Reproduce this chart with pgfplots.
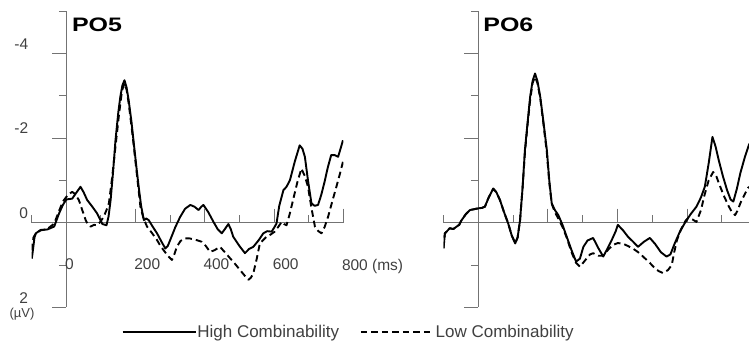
\documentclass[border=0pt]{standalone}
\usepackage{pgfplots}
\pgfplotsset{compat=1.18}
\usepackage{fontspec}
\setmainfont{Liberation Sans}
\definecolor{axgray}{gray}{0.45}
\definecolor{txtgray}{gray}{0.25}

\pgfplotsset{
  erp/.style={
    scale only axis, height=296pt,
    axis lines=middle,
    axis line style={-, axgray, line width=1pt},
    ymin=-5, ymax=2, y dir=reverse,
    hide obscured x ticks=false, hide obscured y ticks=false,
    tick align=outside,
    major tick length=14pt, minor tick length=7.5pt,
    tick style={axgray, line width=1pt},
    minor tick style={axgray, line width=1pt},
    ytick={-4,-2,0,2}, minor ytick={-5,-3,-1,1},
    /pgf/number format/assume math mode=true,
    ticklabel style={font=\fontsize{15.5}{15.5}\selectfont, text=txtgray},
    title style={inner sep=0pt, anchor=base west, font=\bfseries\fontsize{19.5}{19.5}\selectfont},
    clip=true,
  },
  hi/.style={black, line width=1.9pt, line join=round},
  lo/.style={black, line width=1.9pt, line join=round, dash pattern=on 6.5pt off 4pt},
}

\begin{document}
\begin{tikzpicture}
\useasboundingbox (0,0) rectangle (749pt,352pt);
% ---------------- PO5 ----------------
\begin{axis}[erp,
  at={(31.7pt,44.7pt)}, anchor=south west, width=311.6pt,
  xmin=-100, xmax=800,
  xtick={0,200,400,600,800}, minor xtick={-100,100,300,500,700},
  xticklabels={0,200,400,600,800 (ms)},
  yticklabels={-4,-2,0,2},
  xticklabel style={anchor=north west, inner sep=0pt, xshift=-1.5pt, yshift=-22pt},
  yticklabel style={anchor=south east, inner sep=0pt, xshift=-24pt, yshift=4pt},
  title={\scalebox{1.28}[1]{PO5}},
  title style={at={(axis description cs:0.129,0.913)}},
  every axis y label/.style={at={(axis description cs:-0.031,-0.023)}, anchor=center, font=\fontsize{13}{13}\selectfont, text=txtgray},
  ylabel={(µV)},
  legend style={at={(axis description cs:0.289,-0.083)}, anchor=west, draw=none, fill=none,
    legend columns=2, inner sep=0pt, outer sep=0pt,
    font=\fontsize{17}{17}\selectfont, text=txtgray,
    /tikz/every even column/.append style={column sep=20pt},
    nodes={inner sep=1pt}},
  legend image code/.code={\draw[#1, line width=1.6pt] (0pt,0pt) -- (73pt,0pt);},
]
\addplot[hi] coordinates {
(-100,0.85) (-98,0.75) (-92,0.35) (-88,0.25) (-74,0.17) (-55,0.16) (-35,0.09) (-21,-0.22) (-10,-0.42) (0,-0.55) (17,-0.57) (28,-0.7) (41,-0.85) (50,-0.72) (60,-0.54) (75,-0.38) (89,-0.22) (104,0.03) (116,0.06) (122,-0.15) (128,-0.54) (135,-1.2) (142,-1.95) (150,-2.6) (156,-2.98) (162,-3.25) (168,-3.37) (174,-3.2) (180,-2.9) (188,-2.4) (195,-1.87) (202,-1.35) (209,-0.85) (216,-0.4) (224,-0.06) (231,-0.1) (238,-0.06) (250,0.1) (262,0.25) (275,0.45) (286,0.61) (293,0.55) (300,0.41) (315,0.1) (329,-0.14) (343,-0.33) (358,-0.42) (370,-0.38) (382,-0.30) (390,-0.38) (396,-0.42) (410,-0.25) (425,-0.02) (437,0.15) (449,0.25) (458,0.15) (468,0.03) (475,0.15) (482,0.33) (500,0.55) (516,0.72) (528,0.62) (540,0.57) (555,0.42) (569,0.25) (580,0.2) (593,0.21) (600,0.12) (607,0.02) (615,-0.4) (627,-0.77) (636,-0.85) (646,-1.01) (660,-1.45) (674,-1.83) (682,-1.75) (689,-1.56) (698,-1.0) (708,-0.46) (717,-0.4) (727,-0.42) (736,-0.65) (746,-0.97) (755,-1.3) (765,-1.60) (775,-1.6) (785,-1.56) (792,-1.75) (799,-1.95)
};
\addlegendentry{High Combinability}
\addplot[lo] coordinates {
(-100,0.65) (-95,0.35) (-88,0.25) (-74,0.18) (-55,0.15) (-35,0.02) (-20,-0.3) (-10,-0.5) (0,-0.61) (8,-0.68) (17,-0.73) (25,-0.68) (36,-0.54) (46,-0.3) (56,-0.06) (63,0.05) (70,0.09) (80,0.05) (89,0.06) (98,-0.02) (108,-0.14) (116,-0.3) (123,-0.46) (132,-1.05) (142,-1.8) (152,-2.55) (161,-3.13) (168,-3.29) (174,-3.15) (180,-2.83) (188,-2.3) (195,-1.8) (205,-1.05) (214,-0.38) (223,-0.1) (233,0.09) (248,0.25) (262,0.41) (272,0.55) (281,0.65) (293,0.78) (305,0.88) (312,0.75) (319,0.57) (330,0.43) (343,0.37) (355,0.37) (367,0.39) (380,0.42) (391,0.45) (403,0.55) (415,0.69) (428,0.65) (444,0.57) (458,0.7) (473,0.84) (488,0.98) (502,1.12) (515,1.25) (526,1.35) (533,1.3) (540,1.2) (550,0.85) (559,0.49) (570,0.4) (578,0.33) (590,0.28) (602,0.21) (612,0.1) (622,-0.02) (629,0.03) (636,0.06) (645,-0.2) (655,-0.54) (667,-0.95) (679,-1.28) (689,-1.1) (698,-0.85) (708,-0.35) (718,0.09) (728,0.2) (737,0.25) (746,0.1) (756,-0.14) (768,-0.5) (780,-0.85) (790,-1.15) (799,-1.44)
};
\addlegendentry{Low Combinability}
\end{axis}
% ---------------- PO6 ----------------
\begin{axis}[erp,
  at={(443.5pt,44.7pt)}, anchor=south west, width=305.5pt,
  xmin=-100, xmax=778,
  xtick={0,200,400,600}, minor xtick={-100,100,300,500,700},
  xticklabel=\empty, yticklabel=\empty,
  title={\scalebox{1.28}[1]{PO6}},
  title style={at={(axis description cs:0.130,0.913)}},
]
\addplot[hi] coordinates {
(-100,0.61) (-96,0.25) (-90,0.2) (-82,0.13) (-72,0.15) (-62,0.09) (-55,0.05) (-48,-0.06) (-36,-0.2) (-24,-0.3) (-12,-0.32) (0,-0.34) (10,-0.35) (19,-0.38) (30,-0.6) (43,-0.81) (52,-0.72) (62,-0.54) (74,-0.25) (86,0.02) (96,0.3) (106,0.49) (113,0.35) (120,-0.06) (127,-0.8) (134,-1.72) (142,-2.4) (149,-2.98) (156,-3.35) (163,-3.53) (170,-3.35) (178,-2.98) (187,-2.4) (197,-1.72) (204,-1.0) (211,-0.46) (220,-0.3) (230,-0.18) (242,0.05) (254,0.33) (268,0.65) (281,0.92) (292,0.85) (302,0.57) (314,0.42) (330,0.36) (345,0.6) (359,0.80) (372,0.6) (384,0.4) (395,0.2) (401,0.05) (416,0.18) (430,0.33) (445,0.45) (459,0.57) (476,0.45) (493,0.36) (508,0.5) (525,0.7) (541,0.80) (552,0.75) (565,0.48) (580,0.2) (594,0.0) (610,-0.2) (627,-0.38) (640,-0.6) (651,-0.85) (662,-1.4) (673,-2.03) (682,-1.8) (691,-1.48) (703,-1.1) (715,-0.77) (725,-0.55) (733,-0.5) (743,-0.8) (753,-1.17) (766,-1.55) (779,-1.87)
};
\addplot[lo] coordinates {
(-100,0.6) (-96,0.25) (-90,0.2) (-82,0.13) (-72,0.15) (-62,0.09) (-55,0.05) (-48,-0.06) (-36,-0.2) (-24,-0.3) (-12,-0.32) (0,-0.34) (10,-0.35) (19,-0.38) (30,-0.6) (43,-0.8) (52,-0.72) (62,-0.54) (74,-0.25) (86,0.02) (96,0.3) (106,0.48) (113,0.35) (120,-0.06) (127,-0.8) (134,-1.65) (142,-2.35) (149,-2.9) (156,-3.3) (163,-3.45) (170,-3.3) (178,-2.95) (187,-2.35) (197,-1.65) (204,-0.95) (211,-0.45) (220,-0.25) (230,-0.1) (242,0.1) (254,0.35) (268,0.7) (281,0.95) (292,1.04) (306,0.9) (321,0.75) (330,0.72) (345,0.78) (359,0.78) (375,0.62) (389,0.52) (401,0.48) (417,0.5) (430,0.55) (446,0.62) (460,0.7) (476,0.82) (493,0.95) (510,1.1) (520,1.15) (531,1.19) (545,1.12) (556,1.0) (563,0.7) (571,0.41) (583,0.15) (595,-0.04) (603,-0.11) (615,-0.08) (627,-0.02) (640,-0.3) (650,-0.65) (662,-1.0) (675,-1.2) (684,-1.1) (693,-0.9) (705,-0.65) (719,-0.4) (729,-0.25) (738,-0.18) (746,-0.3) (753,-0.46) (766,-0.68) (775,-0.82) (779,-0.85)
};
\end{axis}
\end{tikzpicture}
\end{document}
